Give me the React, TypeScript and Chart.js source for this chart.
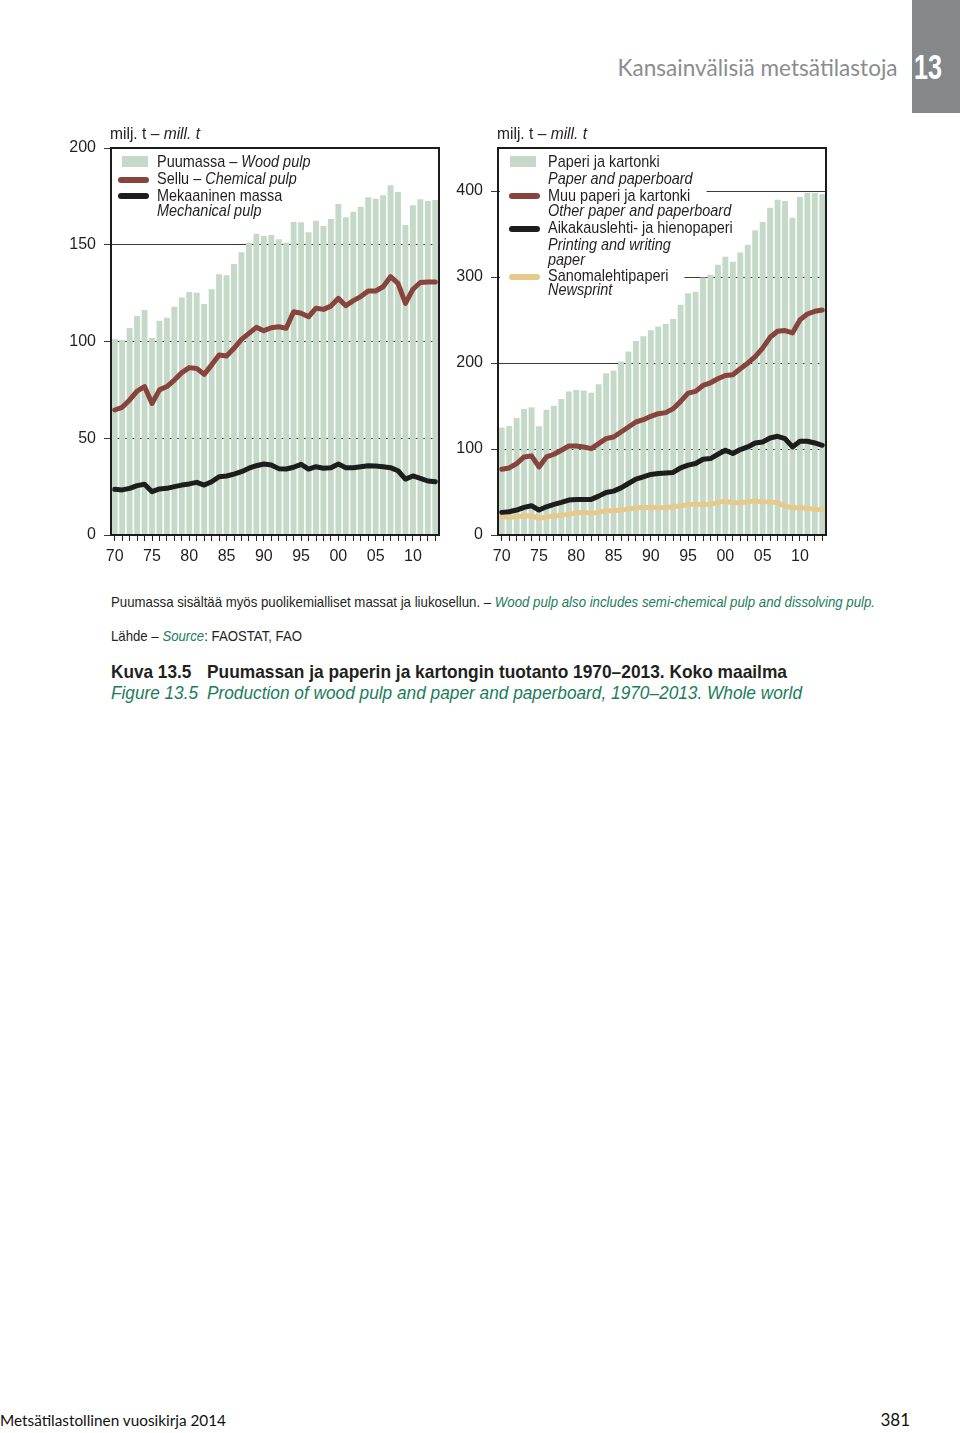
import React, { useEffect, useLayoutEffect, useRef } from "react";
import { Chart, registerables } from "chart.js";

Chart.register(...registerables);

// ---------- data ----------
const years = [
  1970, 1971, 1972, 1973, 1974, 1975, 1976, 1977, 1978, 1979,
  1980, 1981, 1982, 1983, 1984, 1985, 1986, 1987, 1988, 1989,
  1990, 1991, 1992, 1993, 1994, 1995, 1996, 1997, 1998, 1999,
  2000, 2001, 2002, 2003, 2004, 2005, 2006, 2007, 2008, 2009,
  2010, 2011, 2012, 2013,
];
const xTickYears = [1970, 1975, 1980, 1985, 1990, 1995, 2000, 2005, 2010];
const xTickLabels = ["70", "75", "80", "85", "90", "95", "00", "05", "10"];

// Left panel: wood pulp (bars), chemical pulp, mechanical pulp (lines), mill. t
const woodPulp = [
  101.1, 100.8, 107, 113.2, 116.3, 101.8, 110.7, 112.3, 118, 122.7,
  125.6, 125.2, 119.4, 127, 134.7, 134.2, 140, 146.1, 151, 155.7,
  154.5, 155, 152.8, 151, 161.8, 161.6, 156.4, 162.4, 159.7, 163.3,
  171, 164.2, 167.1, 169.7, 174.5, 173.8, 175.6, 180.7, 177.3, 160.2,
  170.4, 173.5, 172.6, 173.1,
];
const chemicalPulp = [
  64.6, 66, 69.8, 74.4, 76.7, 68, 75, 76.7, 80.1, 83.9,
  86.5, 86.1, 83, 87.9, 93, 92.5, 96.5, 101.1, 104.2, 107.3,
  105.6, 107.1, 107.6, 106.8, 115.4, 114.6, 112.8, 117.2, 116.6, 118.3,
  122.3, 118.5, 121.1, 123.2, 126.1, 126.1, 128.3, 133.5, 130, 119.7,
  127, 130.5, 130.7, 130.7,
];
const mechanicalPulp = [
  23.6, 23.3, 24.1, 25.5, 26.2, 22.4, 23.8, 24.1, 25, 25.8,
  26.4, 27.2, 25.8, 27.5, 30.1, 30.5, 31.5, 32.7, 34.5, 35.8,
  36.7, 36.2, 34.3, 34.1, 35, 36.5, 34.1, 35.3, 34.5, 34.8,
  36.7, 34.8, 34.8, 35.3, 35.8, 35.7, 35.3, 34.8, 33.2, 28.9,
  30.5, 29.3, 27.9, 27.5,
];

// Right panel: paper and paperboard (bars) and three grades (lines), mill. t
const paperBoard = [
  124.9, 126.7, 136, 146.4, 148.4, 126.4, 145.7, 150.4, 158, 167,
  168.5, 168.1, 165.4, 175.4, 188.2, 191.3, 201.7, 213.3, 225.7, 231.1,
  238, 242.3, 245.4, 251.2, 267.8, 281, 282.9, 299.5, 302.6, 314.2,
  323.5, 317.7, 328.5, 337.4, 354.4, 364, 380.6, 389.9, 388.4, 369,
  393, 398, 398, 396.2,
];
const otherPaper = [
  76.5, 78, 83.1, 90.8, 92, 79.2, 90.8, 93.9, 98.6, 103.5,
  103.5, 102.4, 100.5, 106.3, 112.1, 114, 119.8, 125.6, 131.4, 134.1,
  138, 141.1, 142.3, 146.9, 155.4, 165, 167, 173.9, 177, 181.7,
  185.5, 186.3, 193.3, 199.8, 207.5, 217.2, 229.9, 236.9, 237.7, 235,
  250.1, 257, 260.1, 261.7,
];
const printingWriting = [
  26.3, 27, 29, 32.1, 34, 29, 32.8, 35.6, 37.9, 40.6,
  41.4, 41.4, 41.4, 45.2, 49.5, 51, 54.8, 59.9, 64.9, 67.6,
  70.4, 71.5, 72.2, 72.7, 78, 81.2, 83.1, 88.1, 88.9, 93.9,
  98.6, 94.7, 99.4, 102.4, 107, 108.2, 112.8, 114.8, 112.1, 102.4,
  109, 109, 107, 104.3,
];
const newsprint = [
  21.2, 20.5, 21.2, 22, 22.4, 19.4, 21.2, 22, 22.8, 24.3,
  25.9, 26.3, 25.2, 26.3, 28.2, 28.2, 29, 30.1, 31.7, 32.1,
  32.1, 31.7, 32.1, 32.8, 33.6, 35.6, 35.6, 35.9, 35.6, 37.9,
  39.4, 37.5, 37.5, 38.6, 39.4, 38.6, 38.3, 37.5, 33.6, 31.7,
  31.7, 31, 29.8, 29,
];

const leftYTicks = [0, 50, 100, 150, 200];
const rightYTicks = [0, 100, 200, 300, 400];

// ---------- style ----------
const SANS = '"Liberation Sans", Arial, sans-serif';
const GILL = 'Lato, "Open Sans", sans-serif';
const TEXT = "#231f20";
const GREEN_TEXT = "#1b7c5c";
const BAR = "#c5d9c8";
const RED = "#87433c";
const BLACK = "#1d1d1d";
const TAN = "#e6c98b";
const LEG_SX = 0.85;

const framePlugin = {
  id: "frame",
  afterDatasetsDraw(chart: any) {
    const { ctx, chartArea: a } = chart;
    ctx.save();
    ctx.strokeStyle = "#1c1c1c";
    ctx.lineWidth = 2;
    ctx.strokeRect(a.left, a.top, a.right - a.left, a.bottom - a.top);
    ctx.restore();
  },
};

type LineSpec = { data: number[]; color: string };

function Panel(props: {
  left: number;
  top: number;
  yMax: number;
  yTicks: number[];
  axisWidth: number;
  rightPad: number;
  bars: number[];
  lines: LineSpec[];
}) {
  const ref = useRef<HTMLCanvasElement>(null);
  useEffect(() => {
    if (!ref.current) return;
    const lineSets = props.lines.map((l, i) => ({
      type: "line" as const,
      data: l.data,
      borderColor: l.color,
      backgroundColor: l.color,
      borderWidth: 5,
      pointRadius: 0,
      tension: 0,
      borderJoinStyle: "round" as const,
      borderCapStyle: "round" as const,
      order: props.lines.length - i,
    }));
    const chart = new Chart(ref.current, {
      type: "bar",
      data: {
        labels: years.map(String),
        datasets: [
          ...lineSets,
          {
            type: "bar" as const,
            data: props.bars,
            backgroundColor: BAR,
            barPercentage: 0.79,
            categoryPercentage: 1,
            order: 20,
          } as any,
        ],
      },
      options: {
        animation: false,
        responsive: false,
        devicePixelRatio: 1,
        events: [],
        layout: { padding: { top: 28, right: props.rightPad, left: 0, bottom: 0 } },
        plugins: { legend: { display: false }, tooltip: { enabled: false } },
        scales: {
          x: {
            type: "category",
            offset: true,
            grid: {
              offset: false,
              drawOnChartArea: false,
              drawTicks: true,
              tickLength: 6,
              color: "#222",
              lineWidth: 1,
            },
            border: { display: false },
            ticks: {
              autoSkip: false,
              maxRotation: 0,
              minRotation: 0,
              padding: 6,
              color: TEXT,
              font: { family: SANS, size: 16 },
              callback: (_v: any, i: number) => {
                const k = xTickYears.indexOf(years[i]);
                return k >= 0 ? xTickLabels[k] : "";
              },
            },
            afterFit: (s: any) => {
              s.height = 45;
            },
          },
          y: {
            min: 0,
            max: props.yMax,
            afterBuildTicks: (s: any) => {
              s.ticks = props.yTicks.map((v) => ({ value: v }));
            },
            grid: {
              color: "#3a3a3a",
              lineWidth: 1,
              drawTicks: true,
              tickLength: 7,
            },
            border: { display: false },
            ticks: {
              padding: 8,
              color: TEXT,
              font: { family: SANS, size: 16 },
            },
            afterFit: (s: any) => {
              s.width = props.axisWidth;
            },
          },
        },
      },
      plugins: [framePlugin],
    } as any);
    return () => chart.destroy();
  }, []);
  return (
    <canvas
      ref={ref}
      width={470}
      height={460}
      style={{ position: "absolute", left: props.left, top: props.top, width: 470, height: 460 }}
    />
  );
}

// text placed by its baseline; optionally squeezed horizontally to a target width (w) or factor (sx)
function Txt(props: {
  x?: number;
  right?: number;
  base: number;
  size: number;
  family?: string;
  weight?: number | string;
  italic?: boolean;
  color?: string;
  bg?: string;
  padL?: number;
  padR?: number;
  ratio?: number;
  w?: number;
  sx?: number;
  children: React.ReactNode;
}) {
  const ref = useRef<HTMLDivElement>(null);
  useLayoutEffect(() => {
    const el = ref.current;
    if (!el) return;
    if (props.w) {
      el.style.transform = "none";
      const now = el.getBoundingClientRect().width;
      if (now > 0) el.style.transform = `scaleX(${props.w / now})`;
    } else if (props.sx) {
      el.style.transform = `scaleX(${props.sx})`;
    }
  });
  const ratio = props.ratio ?? 0.8465;
  const style: React.CSSProperties = {
    position: "absolute",
    top: props.base - props.size * ratio,
    fontSize: props.size,
    lineHeight: props.size + "px",
    fontFamily: props.family ?? SANS,
    fontWeight: props.weight ?? 400,
    fontStyle: props.italic ? "italic" : "normal",
    color: props.color ?? TEXT,
    whiteSpace: "nowrap",
    background: props.bg,
    paddingLeft: props.padL,
    paddingRight: props.padR,
    transformOrigin: props.right !== undefined ? "right center" : "left center",
  };
  if (props.x !== undefined) style.left = props.x;
  if (props.right !== undefined) style.right = props.right;
  return (
    <div ref={ref} style={style}>
      {props.children}
    </div>
  );
}

const I = (p: { children: React.ReactNode }) => <span style={{ fontStyle: "italic" }}>{p.children}</span>;
const G = (p: { children: React.ReactNode }) => (
  <span style={{ fontStyle: "italic", color: GREEN_TEXT }}>{p.children}</span>
);

function Swatch(p: { x: number; y: number; kind: "bar" | "line"; color: string }) {
  if (p.kind === "bar")
    return (
      <div style={{ position: "absolute", left: p.x, top: p.y - 6, width: 26, height: 11, background: p.color }} />
    );
  return (
    <div
      style={{ position: "absolute", left: p.x, top: p.y - 3, width: 31, height: 6, borderRadius: 3, background: p.color }}
    />
  );
}

const rightLegendRows = [
  { t: "Paperi ja kartonki", b: 167.7, i: false },
  { t: "Paper and paperboard", b: 184.3, i: true },
  { t: "Muu paperi ja kartonki", b: 201, i: false },
  { t: "Other paper and paperboard", b: 216.7, i: true },
  { t: "Aikakauslehti- ja hienopaperi", b: 233.3, i: false },
  { t: "Printing and writing", b: 250, i: true },
  { t: "paper", b: 265.3, i: true },
  { t: "Sanomalehtipaperi", b: 281, i: false },
  { t: "Newsprint", b: 295.7, i: true },
];

export default function App() {
  const ls = 17;
  return (
    <div
      style={{
        position: "absolute",
        left: 0,
        top: 0,
        width: 960,
        height: 1433,
        background: "#fff",
        overflow: "hidden",
      }}
    >
      {/* header */}
      <Txt right={62} base={77} size={23.5} family={GILL} color="#8a8c8e" ratio={0.887} w={280}>
        Kansainvälisiä metsätilastoja
      </Txt>
      <div style={{ position: "absolute", left: 912, top: 0, width: 48, height: 113, background: "#84888b" }} />
      <Txt x={914} base={79} size={35} weight={700} color="#fff" w={28}>
        13
      </Txt>

      {/* charts */}
      <Panel
        left={0}
        top={120}
        yMax={200}
        yTicks={leftYTicks}
        axisWidth={111}
        rightPad={31}
        bars={woodPulp}
        lines={[
          { data: chemicalPulp, color: RED },
          { data: mechanicalPulp, color: BLACK },
        ]}
      />
      <Panel
        left={390}
        top={120}
        yMax={450}
        yTicks={rightYTicks}
        axisWidth={108}
        rightPad={34}
        bars={paperBoard}
        lines={[
          { data: newsprint, color: TAN },
          { data: printingWriting, color: BLACK },
          { data: otherPaper, color: RED },
        ]}
      />

      {/* unit labels */}
      <Txt x={110} base={139} size={17} w={90}>
        milj. t – <I>mill. t</I>
      </Txt>
      <Txt x={497} base={139} size={17} w={90}>
        milj. t – <I>mill. t</I>
      </Txt>

      {/* left legend */}
      <Txt x={157} base={167.7} size={ls} sx={LEG_SX}>
        Puumassa – <I>Wood pulp</I>
      </Txt>
      <Txt x={157} base={184.3} size={ls} sx={LEG_SX}>
        Sellu – <I>Chemical pulp</I>
      </Txt>
      <Txt x={157} base={201} size={ls} sx={LEG_SX}>
        Mekaaninen massa
      </Txt>
      <Txt x={157} base={216.7} size={ls} italic sx={LEG_SX}>
        Mechanical pulp
      </Txt>
      <Swatch x={122} y={162} kind="bar" color={BAR} />
      <Swatch x={118} y={180} kind="line" color={RED} />
      <Swatch x={118} y={196} kind="line" color={BLACK} />

      {/* right legend: white backing first (hides grid lines), then the text */}
      {rightLegendRows.map((r, k) => (
        <Txt
          key={"bg" + k}
          x={500}
          base={r.b}
          size={ls}
          italic={r.i}
          bg="#fff"
          color="transparent"
          padL={48 / LEG_SX}
          padR={16 / LEG_SX}
          sx={LEG_SX}
        >
          {r.t}
        </Txt>
      ))}
      {rightLegendRows.map((r, k) => (
        <Txt key={"tx" + k} x={548} base={r.b} size={ls} italic={r.i} sx={LEG_SX}>
          {r.t}
        </Txt>
      ))}
      <Swatch x={510} y={162} kind="bar" color={BAR} />
      <Swatch x={509} y={196} kind="line" color={RED} />
      <Swatch x={509} y={229} kind="line" color={BLACK} />
      <Swatch x={509} y={277} kind="line" color={TAN} />

      {/* notes */}
      <Txt x={111} base={607.3} size={14.5} w={764}>
        Puumassa sisältää myös puolikemialliset massat ja liukosellun. –{" "}
        <G>Wood pulp also includes semi-chemical pulp and dissolving pulp.</G>
      </Txt>
      <Txt x={111} base={641.3} size={14.5} w={191}>
        Lähde – <G>Source</G>: FAOSTAT, FAO
      </Txt>
      <Txt x={111} base={679} size={18.5} weight={700} sx={0.93}>
        Kuva 13.5
      </Txt>
      <Txt x={207} base={679} size={18.5} weight={700} w={580}>
        Puumassan ja paperin ja kartongin tuotanto 1970–2013. Koko maailma
      </Txt>
      <Txt x={111} base={700} size={18.5} italic color={GREEN_TEXT} sx={0.93}>
        Figure 13.5
      </Txt>
      <Txt x={207} base={700} size={18.5} italic color={GREEN_TEXT} w={595}>
        Production of wood pulp and paper and paperboard, 1970–2013. Whole world
      </Txt>

      {/* footer */}
      <Txt x={0} base={1426.5} size={14.5} family={GILL} color="#111" ratio={0.887} w={226}>
        Metsätilastollinen vuosikirja 2014
      </Txt>
      <Txt right={50} base={1426.5} size={17} family={GILL} color="#111" ratio={0.887}>
        381
      </Txt>
    </div>
  );
}
